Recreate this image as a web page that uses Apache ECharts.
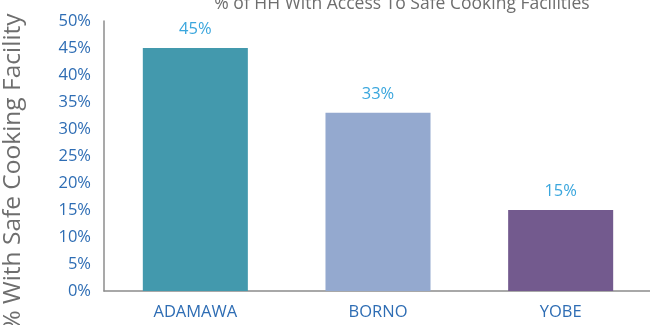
<!DOCTYPE html>
<html>
<head>
<meta charset="utf-8">
<script src="https://cdn.jsdelivr.net/npm/echarts@6/dist/echarts.min.js"></script>
<style>
html,body{margin:0;padding:0;background:#fff;}
#chart{width:650px;height:325px;}
</style>
</head>
<body>
<div id="chart"></div>
<script>
// States and share of households with safe cooking facilities
const states = ['ADAMAWA', 'BORNO', 'YOBE'];
const shareValues = [45, 33, 15];
const barColors = ['#4399ad', '#94a9cf', '#735a8e'];
const yTicks = [0, 5, 10, 15, 20, 25, 30, 35, 40, 45, 50];

const chart = echarts.init(document.getElementById('chart'), null, { renderer: 'canvas' });
const font = 'Open Sans, Lato, sans-serif';

chart.setOption({
  animation: false,
  title: {
    text: '% of HH With Access To Safe Cooking Facilities',
    left: 397,
    textAlign: 'center',
    top: -10,
    textStyle: { color: '#6e6e6e', fontSize: 17.5, fontWeight: 'normal', fontFamily: font }
  },
  grid: { left: 104, right: -2, top: 21, bottom: 34, outerBoundsMode: 'none', containLabel: false },
  xAxis: {
    type: 'category',
    data: states,
    axisLine: { lineStyle: { color: '#8c8c8c', width: 1.5 } },
    axisTick: { show: false },
    axisLabel: { color: '#2e6db4', fontSize: 16.5, fontFamily: font, margin: 13 }
  },
  yAxis: {
    type: 'value',
    min: yTicks[0],
    max: yTicks[yTicks.length - 1],
    interval: 5,
    name: '% With Safe Cooking Facility',
    nameLocation: 'middle',
    nameGap: 78,
    nameTextStyle: { color: '#6e6e6e', fontSize: 24.5, fontFamily: font, padding: [0, 32, 0, 0] },
    axisLine: { show: true, lineStyle: { color: '#8c8c8c', width: 1.5 } },
    axisTick: { show: false },
    splitLine: { show: false },
    axisLabel: {
      color: '#2e6db4', fontSize: 16.5, fontFamily: font, margin: 13,
      formatter: v => v + '%'
    }
  },
  series: [{
    type: 'bar',
    barWidth: '57.5%',
    data: shareValues.map((v, i) => ({ value: v, itemStyle: { color: barColors[i] } })),
    label: {
      show: true,
      position: 'top',
      distance: 10,
      color: '#3aa6dd',
      fontSize: 16.5,
      fontFamily: font,
      formatter: p => p.value + '%'
    }
  }]
});
</script>
</body>
</html>
